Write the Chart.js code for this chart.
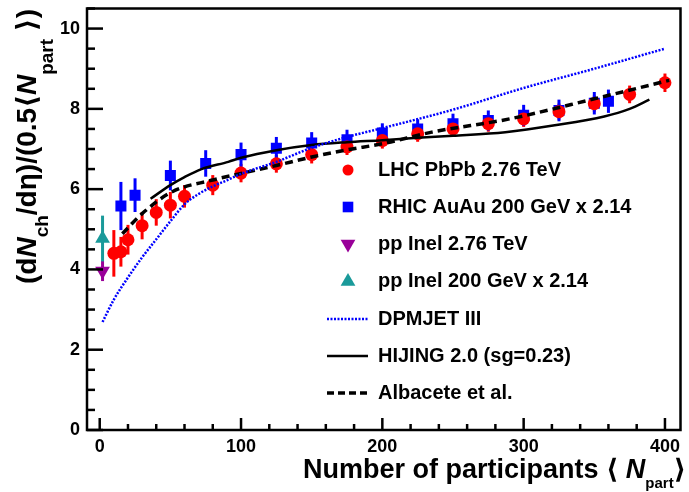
<!DOCTYPE html>
<html>
<head>
<meta charset="utf-8">
<script src="https://cdn.jsdelivr.net/npm/chart.js@4.4.1/dist/chart.umd.min.js"></script>
<style>
  html, body { margin: 0; padding: 0; background: #fff; }
  #wrap { width: 689px; height: 492px; }
</style>
</head>
<body>
<div id="wrap"><canvas id="chart" width="689" height="492"></canvas></div>
<script>
// LHC PbPb 2.76 TeV
const lhcNpart = [10, 15, 20, 30, 40, 50, 60, 80, 100, 125, 150, 175, 200, 225, 250, 275, 300, 325, 350, 375, 400];
const lhcValue = [4.40, 4.44, 4.74, 5.09, 5.42, 5.60, 5.82, 6.10, 6.40, 6.63, 6.86, 7.05, 7.21, 7.38, 7.50, 7.63, 7.75, 7.93, 8.13, 8.36, 8.65];
const lhcError = [0.58, 0.37, 0.37, 0.34, 0.33, 0.33, 0.28, 0.25, 0.23, 0.22, 0.22, 0.2, 0.2, 0.2, 0.2, 0.2, 0.2, 0.2, 0.2, 0.22, 0.23];

// RHIC AuAu 200 GeV x 2.14
const rhicNpart = [15, 25, 50, 75, 100, 125, 150, 175, 200, 225, 250, 275, 300, 325, 350, 360];
const rhicValue = [5.58, 5.85, 6.34, 6.64, 6.86, 7.02, 7.15, 7.23, 7.40, 7.50, 7.63, 7.71, 7.84, 7.96, 8.14, 8.19];
const rhicError = [0.6, 0.42, 0.37, 0.33, 0.3, 0.28, 0.27, 0.25, 0.24, 0.24, 0.25, 0.25, 0.26, 0.27, 0.28, 0.29];

// pp inelastic points
const pp276Npart = [2];
const pp276Value = [3.96];
const pp276Error = [0.25];
const pp200Npart = [2];
const pp200Value = [4.77];
const pp200Error = [0.57];

// model curves
const dpmjetNpart = [2, 10, 20, 30, 40, 50, 60, 70, 80, 90, 100, 125, 150, 175, 200, 250, 300, 350, 400];
const dpmjetValue = [2.69, 3.25, 3.8, 4.3, 4.75, 5.2, 5.62, 5.88, 6.07, 6.22, 6.38, 6.68, 7.03, 7.3, 7.52, 7.98, 8.52, 9.0, 9.5];
const hijingNpart = [36, 50, 60, 72, 91, 100, 125, 150, 175, 200, 225, 250, 287, 322, 357, 375, 389];
const hijingValue = [5.76, 6.1, 6.3, 6.5, 6.68, 6.78, 6.97, 7.1, 7.17, 7.22, 7.28, 7.33, 7.42, 7.59, 7.81, 8.0, 8.23];
const albaceteNpart = [16, 30, 51, 79, 100, 125, 150, 175, 200, 235, 290, 350, 403];
const albaceteValue = [4.89, 5.39, 5.93, 6.22, 6.39, 6.59, 6.8, 6.98, 7.13, 7.42, 7.75, 8.25, 8.71];

// axis ticks
const xTickLabels = [0, 100, 200, 300, 400];
const yTickLabels = [0, 2, 4, 6, 8, 10];

const legendLabels = [
  "LHC PbPb 2.76 TeV",
  "RHIC AuAu 200 GeV x 2.14",
  "pp Inel 2.76 TeV",
  "pp Inel 200 GeV x 2.14",
  "DPMJET III",
  "HIJING 2.0 (sg=0.23)",
  "Albacete et al."
];

const FONT = '"Liberation Sans", Arial, "DejaVu Sans", sans-serif';

function toPoints(xs, ys) {
  return xs.map((x, i) => ({ x: x, y: ys[i] }));
}

// draws a list of [text, style, size, shift] pieces on one baseline
function richText(ctx, parts, x, y, align) {
  const fontOf = p => (p[1] === "i" ? "italic bold " : "bold ") + p[2] + "px " + FONT;
  let total = 0;
  parts.forEach(p => { ctx.font = fontOf(p); total += ctx.measureText(p[0]).width; });
  let cx = align === "right" ? x - total : x;
  ctx.textAlign = "left";
  ctx.textBaseline = "alphabetic";
  parts.forEach(p => {
    ctx.font = fontOf(p);
    ctx.fillText(p[0], cx, y + (p[3] || 0));
    cx += ctx.measureText(p[0]).width;
  });
}

const rootStyle = {
  id: "rootStyle",
  beforeDatasetsDraw(chart) {
    const ctx = chart.ctx;
    const ys = chart.scales.y;
    ctx.save();
    ctx.lineWidth = 3;
    chart.data.datasets.forEach((ds, i) => {
      if (!ds.errors) return;
      const meta = chart.getDatasetMeta(i);
      ctx.strokeStyle = ds.backgroundColor;
      meta.data.forEach((pt, j) => {
        const v = ds.data[j].y;
        ctx.beginPath();
        ctx.moveTo(pt.x, ys.getPixelForValue(v - ds.errors[j]));
        ctx.lineTo(pt.x, ys.getPixelForValue(v + ds.errors[j]));
        ctx.stroke();
      });
    });
    ctx.restore();
  },
  afterDraw(chart) {
    const ctx = chart.ctx;
    const a = chart.chartArea;
    const xs = chart.scales.x, ys = chart.scales.y;
    ctx.save();
    ctx.strokeStyle = "#000";
    ctx.fillStyle = "#000";
    ctx.lineWidth = 2.5;
    ctx.setLineDash([]);
    ctx.strokeRect(a.left, a.top, a.right - a.left, a.bottom - a.top);

    // y ticks
    for (let v = 0; v <= 10.5; v += 0.5) {
      const py = ys.getPixelForValue(v);
      const len = v % 2 === 0 ? 16 : 8;
      ctx.beginPath();
      ctx.moveTo(a.left, py);
      ctx.lineTo(a.left + len, py);
      ctx.stroke();
    }
    // x ticks
    for (let n = 0; n <= 400; n += 20) {
      const px = xs.getPixelForValue(n);
      const len = n % 100 === 0 ? 12 : 6;
      ctx.beginPath();
      ctx.moveTo(px, a.bottom);
      ctx.lineTo(px, a.bottom - len);
      ctx.stroke();
    }

    ctx.font = "bold 18px " + FONT;
    ctx.textAlign = "right";
    ctx.textBaseline = "middle";
    yTickLabels.forEach(v => ctx.fillText(String(v), 80, ys.getPixelForValue(v)));
    ctx.textAlign = "center";
    ctx.textBaseline = "top";
    xTickLabels.forEach(n => ctx.fillText(String(n), xs.getPixelForValue(n), 438));

    // x title
    richText(ctx, [
      ["Number of participants", "", 27, 0],
      [" \u27E8 ", "", 27, 0],
      ["N", "i", 27, 0],
      ["part", "", 15, 10],
      ["\u27E9", "", 27, 0]
    ], 686, 478, "right");

    // y title
    ctx.save();
    ctx.translate(36, 284);
    ctx.rotate(-Math.PI / 2);
    richText(ctx, [
      ["(d", "", 28, 0],
      ["N", "i", 28, 0],
      ["ch", "", 19, 12],
      ["/d\u03B7)/(0.5\u27E8", "", 28, 0],
      ["N", "i", 28, 0],
      ["part", "", 19, 17],
      [" \u27E9)", "", 28, 0]
    ], 0, 0, "left");
    ctx.restore();

    // legend
    const rows = [170, 207, 244, 281.5, 319, 356, 393];
    const sampleX = 348;
    const markers = [
      { color: "#ff0000", style: "circle", radius: 5.5, rotation: 0 },
      { color: "#0000ff", style: "rect", radius: 7.5, rotation: 0 },
      { color: "#990099", style: "triangle", radius: 8.5, rotation: 180 },
      { color: "#1a9a9a", style: "triangle", radius: 8.5, rotation: 0 }
    ];
    markers.forEach((m, i) => {
      ctx.fillStyle = m.color;
      Chart.helpers.drawPoint(ctx, { pointStyle: m.style, radius: m.radius, rotation: m.rotation, borderWidth: 0 }, sampleX, rows[i]);
    });
    const lineSamples = [
      { color: "#0000ff", width: 2.5, dash: [2, 1.5] },
      { color: "#000000", width: 2.5, dash: [] },
      { color: "#000000", width: 3.5, dash: [7, 4] }
    ];
    lineSamples.forEach((l, i) => {
      ctx.strokeStyle = l.color;
      ctx.lineWidth = l.width;
      ctx.setLineDash(l.dash);
      ctx.beginPath();
      ctx.moveTo(327, rows[i + 4]);
      ctx.lineTo(368, rows[i + 4]);
      ctx.stroke();
    });
    ctx.setLineDash([]);
    ctx.fillStyle = "#000";
    ctx.font = "bold 20px " + FONT;
    ctx.textAlign = "left";
    ctx.textBaseline = "middle";
    legendLabels.forEach((t, i) => ctx.fillText(t, 378, rows[i]));
    ctx.restore();
  }
};

const lineBase = { showLine: true, pointRadius: 0, fill: false, cubicInterpolationMode: "monotone" };

new Chart(document.getElementById("chart"), {
  type: "scatter",
  data: {
    datasets: [
      Object.assign({ label: "DPMJET III", data: toPoints(dpmjetNpart, dpmjetValue),
        borderColor: "#0000ff", borderWidth: 2.5, borderDash: [2, 1.5] }, lineBase),
      Object.assign({ label: "HIJING 2.0 (sg=0.23)", data: toPoints(hijingNpart, hijingValue),
        borderColor: "#000000", borderWidth: 2.5 }, lineBase),
      Object.assign({ label: "Albacete et al.", data: toPoints(albaceteNpart, albaceteValue),
        borderColor: "#000000", borderWidth: 3.5, borderDash: [8, 5] }, lineBase),
      { label: "LHC PbPb 2.76 TeV", data: toPoints(lhcNpart, lhcValue), errors: lhcError,
        backgroundColor: "#ff0000", borderWidth: 0, pointStyle: "circle", pointRadius: 6.5 },
      { label: "RHIC AuAu 200 GeV x 2.14", data: toPoints(rhicNpart, rhicValue), errors: rhicError,
        backgroundColor: "#0000ff", borderWidth: 0, pointStyle: "rect", pointRadius: 7.8 },
      { label: "pp Inel 2.76 TeV", data: toPoints(pp276Npart, pp276Value), errors: pp276Error,
        backgroundColor: "#990099", borderWidth: 0, pointStyle: "triangle", rotation: 180, pointRadius: 8.5 },
      { label: "pp Inel 200 GeV x 2.14", data: toPoints(pp200Npart, pp200Value), errors: pp200Error,
        backgroundColor: "#1a9a9a", borderWidth: 0, pointStyle: "triangle", pointRadius: 8.5 }
    ]
  },
  options: {
    responsive: false,
    animation: false,
    layout: { padding: { left: 87, right: 2, top: 8, bottom: 62 } },
    scales: {
      x: { type: "linear", min: -9, max: 411, display: false },
      y: { type: "linear", min: 0, max: 10.5, display: false }
    },
    plugins: { legend: { display: false }, tooltip: { enabled: false } }
  },
  plugins: [rootStyle]
});
</script>
</body>
</html>
